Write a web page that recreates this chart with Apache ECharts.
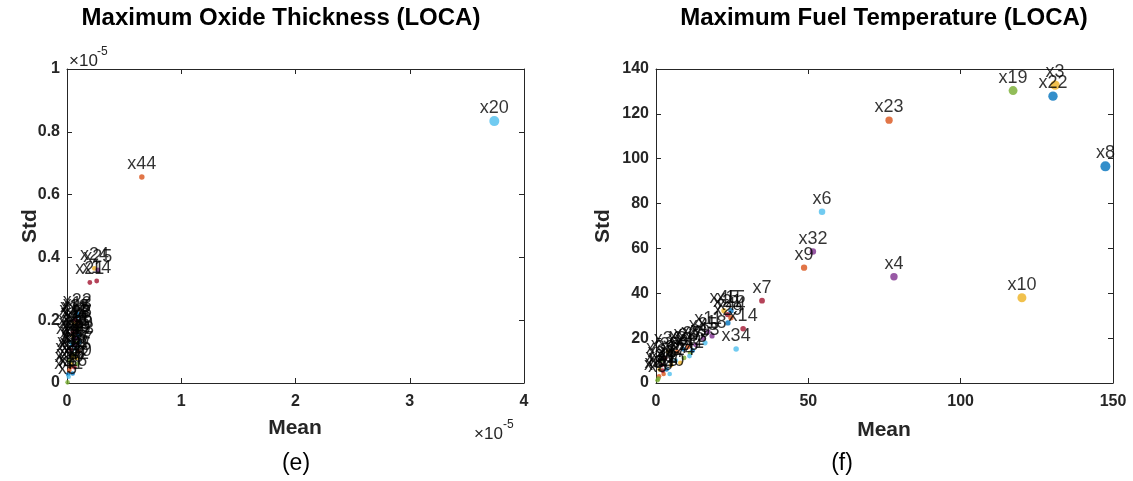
<!DOCTYPE html>
<html>
<head>
<meta charset="utf-8">
<script src="https://cdn.jsdelivr.net/npm/echarts@6/dist/echarts.min.js"></script>
<style>
html,body{margin:0;padding:0;background:#fff;}
#chart{width:1133px;height:481px;}
</style>
</head>
<body>
<div id="chart"></div>
<script>
// ---------- DATA ----------
// Left panel: Maximum Oxide Thickness (LOCA), values in units of 1e-5
const oxideNames = ['x1','x2','x3','x4','x5','x6','x7','x8','x9','x10','x11','x12','x13','x14','x15','x16','x17','x18','x19','x20','x21','x22','x23','x24','x25','x26','x27','x28','x29','x30','x31','x32','x33','x34','x35','x36','x37','x38','x39','x40','x41','x42','x43','x44','x45'];
const oxideMean = [0.01,0.10,0.04,0.06,0.005,0.04,0.035,0.045,0.07,0.05,0.08,0.06,0.09,0.26,0.07,0.03,0.055,0.065,0.08,3.74,0.20,0.09,0.085,0.24,0.27,0.025,0.075,0.05,0.10,0.02,0.06,0.07,0.095,0.03,0.08,0.05,0.10,0.04,0.075,0.09,0.015,0.065,0.11,0.655,0.085];
const oxideStd  = [0.028,0.195,0.06,0.14,0.002,0.10,0.105,0.12,0.17,0.08,0.16,0.09,0.21,0.325,0.18,0.05,0.15,0.20,0.13,0.834,0.32,0.22,0.18,0.365,0.36,0.07,0.11,0.16,0.15,0.04,0.19,0.12,0.17,0.13,0.20,0.03,0.10,0.09,0.14,0.06,0.02,0.05,0.13,0.656,0.08];
// Right panel: Maximum Fuel Temperature (LOCA)
const tempNames = oxideNames;
const tempMean = [3.5,7,131,78.1,0.5,54.5,34.8,147.5,48.6,120.1,17.1,11.2,16.1,28.6,24.6,2.5,5,18.4,117.2,4.5,23.5,130.3,76.5,8,15.5,9.2,6.5,2,23.6,1,4,51.5,1.5,26.3,3,9,10.5,1.2,13,0.8,11,2.2,12,24.6,22.3];
const tempStd  = [6,14,132.8,47.4,1.2,76.4,36.7,96.6,51.4,38,22.8,13.4,17.9,24.2,32.2,4,8,21,130.4,4,30.5,127.9,117.2,9,20,11.2,10,8,26.8,3,14,58.6,10,15.2,11,15,16,6,17,2,12,5.5,14.5,29.1,32.2];
// Axis tick settings [min, max, interval]
const oxideXTicks = [0, 4, 1];
const oxideYTicks = [0, 1, 0.2];
const tempXTicks = [0, 150, 50];
const tempYTicks = [0, 140, 20];

// ---------- STYLE ----------
const palette = ['#0072BD','#D95319','#EDB120','#7E2F8E','#77AC30','#4DBEEE','#A2142F'];
const axisColor = '#262626';
const FONT = '"Liberation Sans", Arial, Helvetica, sans-serif';

function buildData(names, mean, std) {
  const maxM = Math.max(...mean);
  return names.map((n, i) => {
    const idx = parseInt(n.slice(1), 10) - 1;
    return {
      name: n,
      value: [mean[i], std[i]],
      symbolSize: 4.5 + 5.5 * mean[i] / maxM,
      itemStyle: { color: palette[idx % palette.length] }
    };
  });
}

function xAx(gi, t, pos, showLabel) {
  return {
    gridIndex: gi, type: 'value', position: pos, min: t[0], max: t[1], interval: t[2],
    axisLine: { show: true, onZero: false, lineStyle: { color: axisColor, width: 1 } },
    axisTick: { show: true, inside: true, length: 5, lineStyle: { color: axisColor } },
    axisLabel: { show: showLabel, color: axisColor, fontWeight: 'bold', fontSize: 16, fontFamily: FONT, margin: 11 },
    splitLine: { show: false }
  };
}
function yAx(gi, t, pos, showLabel) {
  return {
    gridIndex: gi, type: 'value', position: pos, min: t[0], max: t[1], interval: t[2],
    axisLine: { show: true, onZero: false, lineStyle: { color: axisColor, width: 1 } },
    axisTick: { show: true, inside: true, length: 5, lineStyle: { color: axisColor } },
    axisLabel: { show: showLabel, color: axisColor, fontWeight: 'bold', fontSize: 16, fontFamily: FONT, margin: 7 },
    splitLine: { show: false }
  };
}
const pointLabel = {
  show: true, position: 'inside', offset: [0, -13],
  formatter: p => p.name, color: '#000', fontSize: 18, fontFamily: FONT
};

const chart = echarts.init(document.getElementById('chart'), null, { renderer: 'canvas' });
function txt(x, y, text, size, weight, opts) {
  opts = opts || {};
  const g = {
    type: 'text', x: x, y: y,
    style: { text: text, fontSize: size, fontWeight: weight, fontFamily: FONT,
             fill: opts.fill || axisColor, align: opts.align || 'center', verticalAlign: 'middle' }
  };
  if (opts.rotation) g.rotation = opts.rotation;
  return g;
}
chart.setOption({
  animation: false,
  backgroundColor: '#fff',
  grid: [
    { left: 67, top: 69, width: 457, height: 314 },
    { left: 656, top: 69, width: 457, height: 314 }
  ],
  xAxis: [
    xAx(0, oxideXTicks, 'bottom', true), xAx(0, oxideXTicks, 'top', false),
    xAx(1, tempXTicks, 'bottom', true), xAx(1, tempXTicks, 'top', false)
  ],
  yAxis: [
    yAx(0, oxideYTicks, 'left', true), yAx(0, oxideYTicks, 'right', false),
    yAx(1, tempYTicks, 'left', true), yAx(1, tempYTicks, 'right', false)
  ],
  series: [
    { type: 'scatter', xAxisIndex: 0, yAxisIndex: 0, symbol: 'circle',
      data: buildData(oxideNames, oxideMean, oxideStd), label: pointLabel },
    { type: 'scatter', xAxisIndex: 2, yAxisIndex: 2, symbol: 'circle',
      data: buildData(tempNames, tempMean, tempStd), label: pointLabel }
  ],
  graphic: [
    txt(281, 18, 'Maximum Oxide Thickness (LOCA)', 24, 'bold', { fill: '#000' }),
    txt(884, 18, 'Maximum Fuel Temperature (LOCA)', 24, 'bold', { fill: '#000' }),
    txt(295, 428, 'Mean', 21, 'bold'),
    txt(884, 430, 'Mean', 21, 'bold'),
    txt(30, 226, 'Std', 21, 'bold', { rotation: Math.PI / 2 }),
    txt(603, 226, 'Std', 21, 'bold', { rotation: Math.PI / 2 }),
    txt(296, 464, '(e)', 23, 'normal', { fill: '#000' }),
    txt(842, 464, '(f)', 23, 'normal', { fill: '#000' }),
    txt(69, 61, '\u00d710', 17, 'normal', { align: 'left' }),
    txt(97, 52, '-5', 12, 'normal', { align: 'left' }),
    txt(474, 434, '\u00d710', 17, 'normal', { align: 'left' }),
    txt(503, 425, '-5', 12, 'normal', { align: 'left' })
  ]
});
</script>
</body>
</html>
